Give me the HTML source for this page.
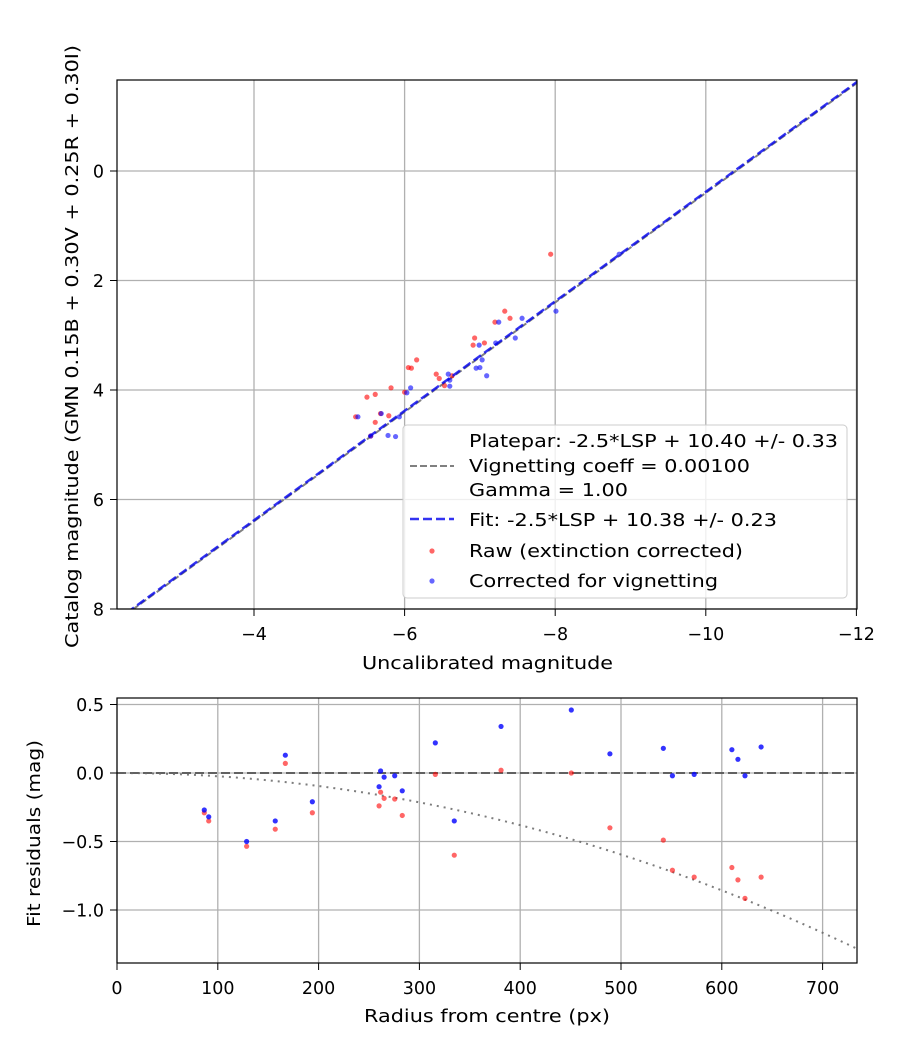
<!DOCTYPE html>
<html><head><meta charset="utf-8"><style>
body{margin:0;background:#fff}
svg{display:block;font-family:"DejaVu Sans","Liberation Sans",sans-serif}
</style></head><body>
<svg id="fig" width="900" height="1050" xmlns="http://www.w3.org/2000/svg">
<g id="topPlot"></g>
<g id="botPlot"></g>
</svg>
<script>
// Top chart data
const rawX = [-7.94,-7.33,-7.40,-7.20,-6.93,-6.91,-7.06,-6.16,-6.05,-6.09,-5.82,-6.42,-6.46,-6.53,-6.63,-5.61,-5.50,-6.00,-5.35,-5.68,-5.79,-5.61,-5.55];
const rawY = [1.52,2.56,2.69,2.76,3.05,3.18,3.14,3.45,3.59,3.60,3.96,3.71,3.79,3.92,3.74,4.08,4.13,4.04,4.49,4.43,4.47,4.59,4.84];
const corX = [-8.85,-8.01,-7.56,-7.25,-7.47,-7.21,-6.99,-7.03,-6.95,-7.00,-7.09,-6.58,-6.60,-6.60,-6.08,-6.03,-5.38,-5.69,-5.93,-5.78,-5.88,-5.55];
const corY = [1.52,2.56,2.69,2.76,3.05,3.14,3.18,3.45,3.60,3.59,3.74,3.71,3.82,3.93,3.96,4.05,4.49,4.43,4.49,4.83,4.85,4.84];
const fitZero = 10.38, plateZero = 10.40;
const topXTicks = [-4,-6,-8,-10,-12];
const topYTicks = [0,2,4,6,8];
// Residual chart data
const radius = [86.6,91,128.6,157,167,193.8,261.5,260,265,275.5,283,315.8,334.6,381,450.7,489,542,551,572.6,610,616,623,639];
const residCor = [-0.27,-0.32,-0.50,-0.35,0.13,-0.21,0.015,-0.10,-0.03,-0.02,-0.13,0.22,-0.35,0.34,0.46,0.14,0.18,-0.02,-0.01,0.17,0.10,-0.02,0.19];
const residRaw = [-0.29,-0.35,-0.535,-0.41,0.07,-0.29,-0.14,-0.24,-0.185,-0.19,-0.31,-0.01,-0.60,0.02,0.0,-0.40,-0.49,-0.71,-0.76,-0.69,-0.78,-0.915,-0.76];
const vignK = 0.00000238;
const botXTicks = [0,100,200,300,400,500,600,700];
const botYTicks = [0.5,0.0,-0.5,-1.0];
const botYLabels = ["0.5","0.0","−0.5","−1.0"];

const NS="http://www.w3.org/2000/svg";
const FS=17.5, FT=18;
function mk(parent,tag,attrs,text){const e=document.createElementNS(NS,tag);for(const k in attrs)e.setAttribute(k,attrs[k]);if(text!==undefined)e.textContent=text;parent.appendChild(e);return e;}

// ---- top axes
const T={l:117,r:857,t:80,b:609};
const tx=v=>254+(-4-v)*75.3;
const ty=v=>171+v*54.75;
const topG=document.getElementById('topPlot');
mk(topG,'rect',{x:T.l,y:T.t,width:T.r-T.l,height:T.b-T.t,fill:'#fff'});
const tgrid=mk(topG,'g',{stroke:'#b0b0b0','stroke-width':1.3});


topXTicks.forEach(v=>{mk(tgrid,'line',{x1:tx(v),x2:tx(v),y1:T.t,y2:T.b});});
topYTicks.forEach(v=>{mk(tgrid,'line',{x1:T.l,x2:T.r,y1:ty(v),y2:ty(v)});});
const clipT=mk(topG,'clipPath',{id:'ct'});mk(clipT,'rect',{x:T.l,y:T.t,width:T.r-T.l,height:T.b-T.t});
const tdata=mk(topG,'g',{'clip-path':'url(#ct)'});
const x0=-2.17,x1=-12.01;
const pl=mk(tdata,'line',{x1:tx(x0),y1:ty(x0+plateZero),x2:tx(x1),y2:ty(x1+plateZero),stroke:'#808080','stroke-width':2,'stroke-dasharray':'7,3'});


rawX.forEach((v,i)=>{const c=mk(tdata,'circle',{cx:tx(v),cy:ty(rawY[i]),r:2.6,fill:'#ff0000','fill-opacity':0.6});

});
corX.forEach((v,i)=>{const c=mk(tdata,'circle',{cx:tx(v),cy:ty(corY[i]),r:2.6,fill:'#0000ff','fill-opacity':0.6});

});
const fl=mk(tdata,'line',{x1:tx(x0),y1:ty(x0+fitZero),x2:tx(x1),y2:ty(x1+fitZero),stroke:'#0000ee','stroke-opacity':0.8,'stroke-width':2.5,'stroke-dasharray':'9,4'});


mk(topG,'rect',{x:T.l,y:T.t,width:T.r-T.l,height:T.b-T.t,fill:'none',stroke:'#000','stroke-width':1.2});
topXTicks.forEach(v=>{mk(topG,'line',{x1:tx(v),x2:tx(v),y1:T.b,y2:T.b+7,stroke:'#000'});
const t=mk(topG,'text',{x:tx(v),y:T.b+31,'text-anchor':'middle','font-size':FS},'−'+Math.abs(v));

});
topYTicks.forEach(v=>{mk(topG,'line',{x1:T.l-7,x2:T.l,y1:ty(v),y2:ty(v),stroke:'#000'});
const t=mk(topG,'text',{x:T.l-13,y:ty(v)+6.5,'text-anchor':'end','font-size':FS},String(v));

});
const txl=mk(topG,'text',{x:362,y:669,'font-size':FT,textLength:251,lengthAdjust:'spacingAndGlyphs'},'Uncalibrated magnitude');


const tyl=mk(topG,'text',{x:0,y:0,transform:'translate(78,648) rotate(-90)','font-size':FT,textLength:603,lengthAdjust:'spacingAndGlyphs'},'Catalog magnitude (GMN 0.15B + 0.30V + 0.25R + 0.30I)');


// legend
const lg=mk(topG,'g',{});


mk(lg,'rect',{x:403,y:425,width:444,height:173,rx:4,fill:'#fff','fill-opacity':0.8,stroke:'#cccccc'});
mk(lg,'line',{x1:410,x2:454,y1:466,y2:466,stroke:'#808080','stroke-width':2,'stroke-dasharray':'7,3'});
mk(lg,'line',{x1:410,x2:454,y1:519,y2:519,stroke:'#0000ee','stroke-opacity':0.8,'stroke-width':2.5,'stroke-dasharray':'9,4'});
mk(lg,'circle',{cx:432,cy:551,r:2.6,fill:'#ff0000','fill-opacity':0.6});
mk(lg,'circle',{cx:432,cy:581,r:2.6,fill:'#0000ff','fill-opacity':0.6});
[['Platepar: -2.5*LSP + 10.40 +/- 0.33',447,369],['Vignetting coeff = 0.00100',472,281],['Gamma = 1.00',496,159],['Fit: -2.5*LSP + 10.38 +/- 0.23',526,308],['Raw (extinction corrected)',557,274],['Corrected for vignetting',587,249]].forEach(([s,y,w])=>{
const t=mk(lg,'text',{x:469,y:y,'font-size':FT,textLength:w,lengthAdjust:'spacingAndGlyphs'},s);

});

// ---- bottom axes
const B={l:117,r:857,t:698,b:963};
const bx=v=>117+v*1.008;
const by=v=>773-v*137;
const botG=document.getElementById('botPlot');
mk(botG,'rect',{x:B.l,y:B.t,width:B.r-B.l,height:B.b-B.t,fill:'#fff'});
const bgrid=mk(botG,'g',{stroke:'#b0b0b0','stroke-width':1.3});


botXTicks.forEach(v=>{mk(bgrid,'line',{x1:bx(v),x2:bx(v),y1:B.t,y2:B.b});});
botYTicks.forEach(v=>{mk(bgrid,'line',{x1:B.l,x2:B.r,y1:by(v),y2:by(v)});});
const clipB=mk(botG,'clipPath',{id:'cb'});mk(clipB,'rect',{x:B.l,y:B.t,width:B.r-B.l,height:B.b-B.t});
const bdata=mk(botG,'g',{'clip-path':'url(#cb)'});
const zl=mk(bdata,'line',{x1:B.l,x2:B.r,y1:by(0),y2:by(0),stroke:'#555','stroke-opacity':0.9,'stroke-width':2,'stroke-dasharray':'9,4'});


let pts=[];for(let r=0;r<=735;r+=5)pts.push(bx(r)+','+by(-vignK*r*r));
const vc=mk(bdata,'polyline',{points:pts.join(' '),fill:'none',stroke:'#666','stroke-opacity':0.85,'stroke-width':2,'stroke-dasharray':'2,5'});


radius.forEach((r,i)=>{const c=mk(bdata,'circle',{cx:bx(r),cy:by(residRaw[i]),r:2.6,fill:'#ff0000','fill-opacity':0.6});

});
radius.forEach((r,i)=>{const c=mk(bdata,'circle',{cx:bx(r),cy:by(residCor[i]),r:2.6,fill:'#0000ff','fill-opacity':0.8});

});
mk(botG,'rect',{x:B.l,y:B.t,width:B.r-B.l,height:B.b-B.t,fill:'none',stroke:'#000','stroke-width':1.2});
botXTicks.forEach(v=>{mk(botG,'line',{x1:bx(v),x2:bx(v),y1:B.b,y2:B.b+7,stroke:'#000'});
const t=mk(botG,'text',{x:bx(v),y:B.b+31,'text-anchor':'middle','font-size':FS},String(v));

});
botYTicks.forEach((v,i)=>{mk(botG,'line',{x1:B.l-7,x2:B.l,y1:by(v),y2:by(v),stroke:'#000'});
const t=mk(botG,'text',{x:B.l-13,y:by(v)+6.5,'text-anchor':'end','font-size':FS},botYLabels[i]);

});
const bxl=mk(botG,'text',{x:364,y:1022,'font-size':FT,textLength:246,lengthAdjust:'spacingAndGlyphs'},'Radius from centre (px)');


const byl=mk(botG,'text',{x:0,y:0,transform:'translate(40,927) rotate(-90)','font-size':FT,textLength:187,lengthAdjust:'spacingAndGlyphs'},'Fit residuals (mag)');


</script>
</body></html>
